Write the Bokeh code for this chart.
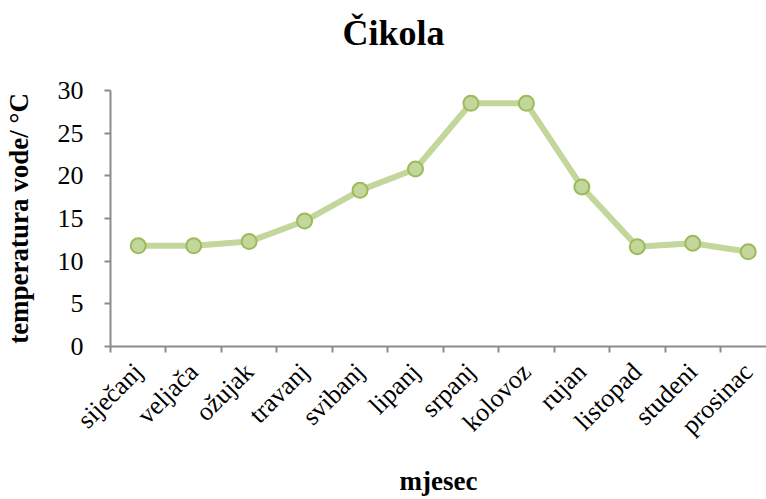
import math
from bokeh.plotting import figure
from bokeh.models import Range1d, FixedTicker, Title
from bokeh.embed import file_html
from bokeh.resources import INLINE

months = ["siječanj", "veljača", "ožujak", "travanj", "svibanj", "lipanj",
          "srpanj", "kolovoz", "rujan", "listopad", "studeni", "prosinac"]
temps = [11.8, 11.8, 12.3, 14.7, 18.3, 20.8, 28.5, 28.5, 18.7, 11.7, 12.1, 11.1]
y_ticks = [0, 5, 10, 15, 20, 25, 30]
title_text = "Čikola"

xs = [i + 0.5 for i in range(len(months))]

FONT = "Liberation Serif"
AXIS_COLOR = "#8c8c8c"

p = figure(width=766, height=499, output_backend="svg", toolbar_location=None,
           x_range=Range1d(0, 11.83), y_range=Range1d(0, 30),
           min_border_left=110, min_border_right=0, min_border_top=90,
           min_border_bottom=0)
p.title = None
# spacer between title and plot area
p.add_layout(Title(text=" ", text_font=FONT, text_font_size="20px",
                   standoff=14), "above")
p.add_layout(Title(text=title_text, text_font=FONT, text_font_size="36px",
                   text_font_style="bold", text_color="black", align="left",
                   offset=232, standoff=0), "above")

p.line(xs, temps, line_color="#c3d69b", line_width=6)
p.scatter(xs, temps, size=15, fill_color="#c3d69b", line_color="#9bbb59",
          line_width=2)

p.xgrid.visible = False
p.ygrid.visible = False
p.outline_line_color = None
p.background_fill_color = "white"
p.border_fill_color = "white"

# x axis
xa = p.xaxis[0]
xa.ticker = FixedTicker(ticks=xs, minor_ticks=list(range(len(months) + 1)))
xa.major_label_overrides = {x: m for x, m in zip(xs, months)}
xa.major_label_orientation = math.pi / 4
xa.major_tick_out = 0
xa.major_tick_in = 0
xa.minor_tick_out = 6
xa.minor_tick_in = 0
xa.minor_tick_line_color = AXIS_COLOR
xa.minor_tick_line_width = 2
xa.axis_line_color = AXIS_COLOR
xa.axis_line_width = 2
xa.major_label_text_font = FONT
xa.major_label_text_font_size = "26px"
xa.major_label_text_color = "black"
xa.major_label_standoff = 15
xa.axis_label = "mjesec"
xa.axis_label_text_font = FONT
xa.axis_label_text_font_size = "27px"
xa.axis_label_text_font_style = "bold"
xa.axis_label_text_color = "black"
xa.axis_label_standoff = 13

# y axis
ya = p.yaxis[0]
ya.ticker = FixedTicker(ticks=y_ticks, minor_ticks=[])
ya.major_tick_out = 6
ya.major_tick_in = 0
ya.major_tick_line_color = AXIS_COLOR
ya.major_tick_line_width = 2
ya.minor_tick_out = 0
ya.minor_tick_in = 0
ya.axis_line_color = AXIS_COLOR
ya.axis_line_width = 2
ya.major_label_text_font = FONT
ya.major_label_text_font_size = "26px"
ya.major_label_text_color = "black"
ya.major_label_standoff = 21
ya.axis_label = "temperatura vode/ °C"
ya.axis_label_text_font = FONT
ya.axis_label_text_font_size = "27px"
ya.axis_label_text_font_style = "bold"
ya.axis_label_text_color = "black"
ya.axis_label_standoff = 21

open("out.html", "w").write(file_html(p, INLINE))
